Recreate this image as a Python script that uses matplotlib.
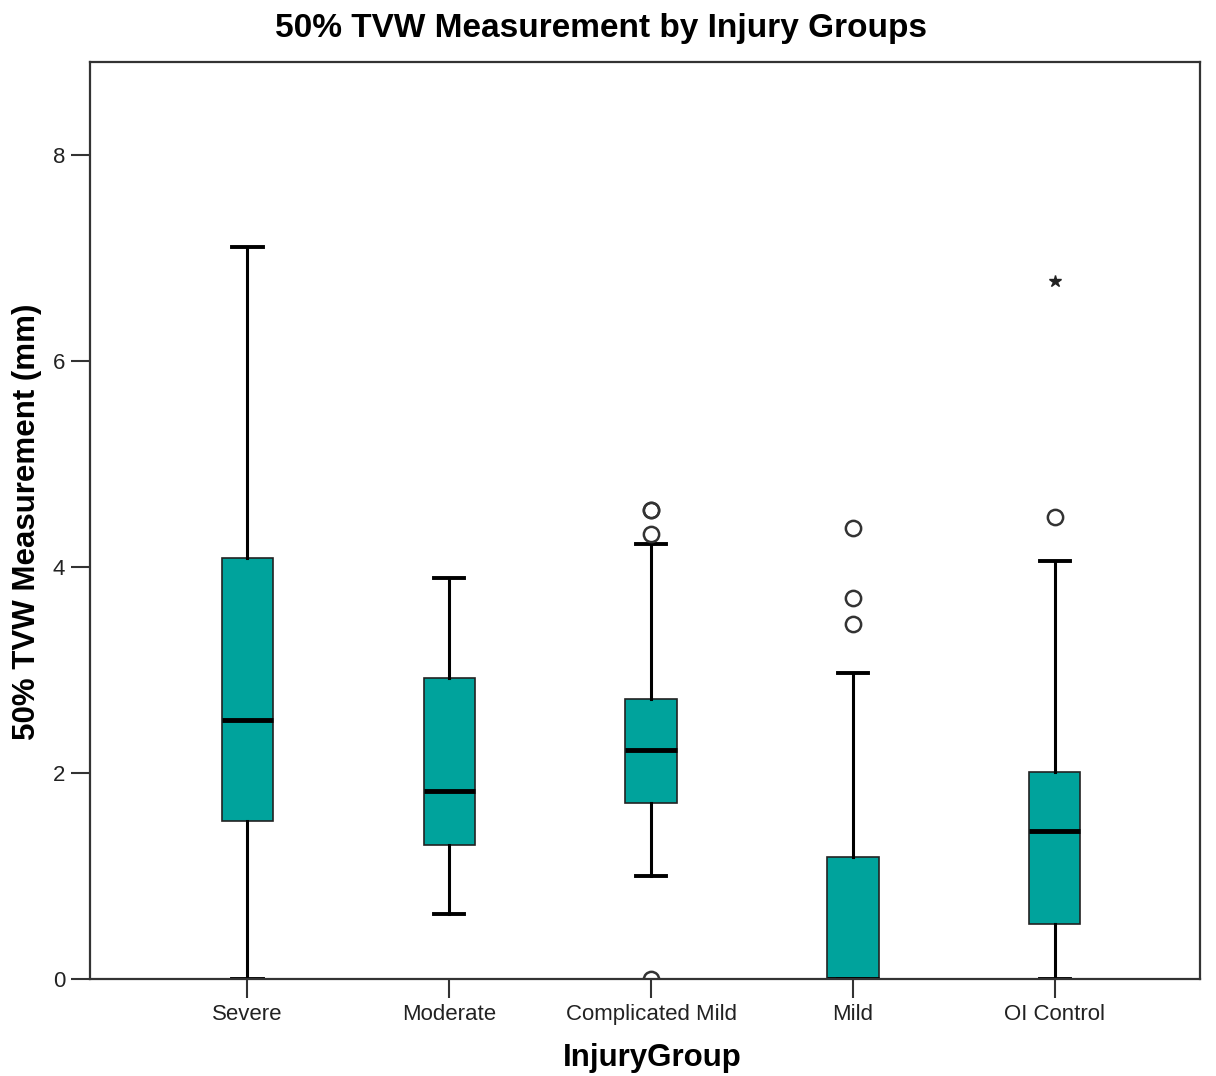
import matplotlib
matplotlib.use("Agg")
import matplotlib.pyplot as plt

plt.rcParams['font.family'] = ['Liberation Sans', 'DejaVu Sans']

# Summary statistics for each injury group (mm)
groups = ["Severe", "Moderate", "Complicated Mild", "Mild", "OI Control"]
whisker_low = [0.00, 0.63, 1.00, 0.00, 0.00]
q1 = [1.53, 1.30, 1.71, 0.00, 0.53]
medians = [2.51, 1.82, 2.22, 0.00, 1.44]
q3 = [4.09, 2.92, 2.72, 1.18, 2.01]
whisker_high = [7.10, 3.89, 4.22, 2.97, 4.06]
# Outliers (circles) and extreme values (stars)
outliers = [[], [], [4.55, 4.55, 4.32, 0.00], [4.38, 3.70, 3.45], [4.48]]
extremes = [[], [], [], [], [6.77]]
y_ticks = [0, 2, 4, 6, 8]

stats = []
for i, name in enumerate(groups):
    stats.append(dict(label=name, whislo=whisker_low[i], q1=q1[i], med=medians[i],
                      q3=q3[i], whishi=whisker_high[i], fliers=[]))

fig = plt.figure(figsize=(12.16, 10.76), dpi=100)
ax = fig.add_axes([90 / 1216, 1 - 979 / 1076, 1110 / 1216, 917 / 1076])

positions = list(range(len(groups)))
ax.bxp(stats, positions=positions, widths=0.255, patch_artist=True,
       showfliers=False,
       boxprops=dict(facecolor="#00A39C", edgecolor="#222222", linewidth=1.2),
       medianprops=dict(color="black", linewidth=3.5),
       whiskerprops=dict(color="black", linewidth=2.2),
       capprops=dict(color="black", linewidth=2.8),
       capwidths=0.15)

for i, pos in enumerate(positions):
    if outliers[i]:
        ax.plot([pos] * len(outliers[i]), outliers[i], linestyle="none", marker="o",
                markersize=11, markerfacecolor="none", markeredgecolor="#333333",
                markeredgewidth=1.8, zorder=5)
    if extremes[i]:
        ax.plot([pos] * len(extremes[i]), extremes[i], linestyle="none", marker="*",
                markersize=9, color="#222222", zorder=5)

ax.set_xlim(-0.78, 4.72)
ax.set_ylim(0, 8.9)
ax.set_yticks(y_ticks)
ax.set_yticklabels([str(t) for t in y_ticks])
ax.set_xticks(positions)
ax.set_xticklabels(groups)
ax.tick_params(axis="both", labelsize=16, length=14, width=1.5, color="#333333",
               labelcolor="#222222")
ax.tick_params(axis="x", pad=4)
ax.tick_params(axis="y", pad=4)

for side in ["left", "right", "top", "bottom"]:
    ax.spines[side].set_linewidth(1.6)
    ax.spines[side].set_color("#333333")

fig.suptitle("50% TVW Measurement by Injury Groups", x=601 / 1216, y=1 - 13 / 1076,
             va="top", fontsize=24, fontweight="bold")
ax.set_ylabel("50% TVW Measurement (mm)", fontsize=22.5, fontweight="bold")
ax.yaxis.set_label_coords((42 - 90) / 1110, (979 - 522) / 917)
ax.set_xlabel("InjuryGroup", fontsize=22.5, fontweight="bold")
ax.xaxis.set_label_coords((652 - 90) / 1110, -(1043 - 979) / 917)

fig.savefig("out.png", dpi=100, facecolor="white")
